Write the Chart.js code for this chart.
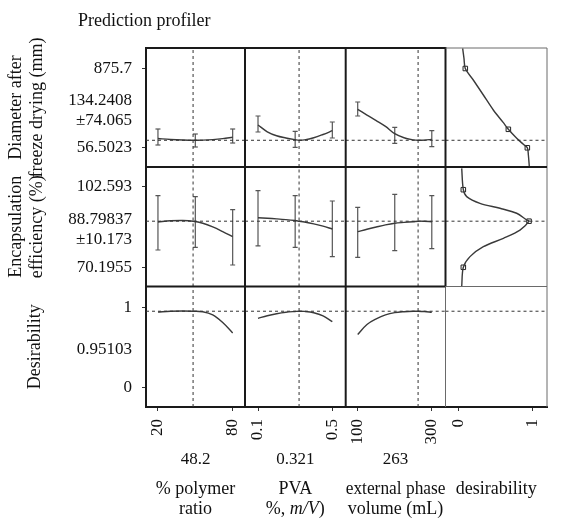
<!DOCTYPE html>
<html>
<head>
<meta charset="utf-8">
<title>Prediction profiler</title>
<script src="https://cdn.jsdelivr.net/npm/chart.js@4.4.1/dist/chart.umd.min.js"></script>
<style>
  html, body { margin: 0; padding: 0; background: #fff; }
</style>
</head>
<body>
<canvas id="profiler" width="571" height="518"></canvas>
<script>
  var chartTitle = 'Prediction profiler'

  // factors = columns
  var factorNames = [['% polymer', 'ratio'], ['PVA', '%, m/V)'], ['external phase', 'volume (mL)'], ['desirability']]
  var italicWord = 'm/V'
  var factorCurrent = [48.2, 0.321, 263]
  var factorCurrentLabels = ['48.2', '0.321', '263']
  var factorTicks = [[20, 80], [0.1, 0.5], [100, 300], [0, 1]]
  var factorTickLabels = [['20', '80'], ['0.1', '0.5'], ['100', '300'], ['0', '1']]
  var factorMin = [10.4, 0.03, 67.6, -0.184]
  var factorMax = [89.9, 0.572, 337, 1.2]

  // responses = rows
  var responseNames = [['Diameter after', 'freeze drying (mm)'], ['Encapsulation', 'efficiency (%)'], ['Desirability']]
  var responseCurrent = [134.2408, 88.79837, 0.95103]
  var responseCurrentLabels = [['134.2408', '±74.065'], ['88.79837', '±10.173'], ['0.95103']]
  var responseTicks = [[56.5023, 875.7], [70.1955, 102.593], [0, 1]]
  var responseTickLabels = [['56.5023', '875.7'], ['70.1955', '102.593'], ['0', '1']]
  var responseMin = [-141.8, 62.45, -0.246]
  var responseMax = [1087.5, 110.66, 1.26]

  // profile traces
  var polymerX = [20, 30, 40, 48.2, 56, 64, 72, 80]
  var pvaX = [0.1, 0.15, 0.2, 0.25, 0.3, 0.321, 0.35, 0.4, 0.45, 0.5]
  var volumeX = [100, 125, 150, 175, 200, 225, 250, 263, 280, 300]

  var diameterByPolymer = [152, 143, 137, 134.24, 136, 141, 151, 166]
  var diameterByPva = [292, 222, 181, 158, 140, 134.24, 138, 160, 194, 233]
  var diameterByVolume = [454, 395, 338, 278, 202, 160, 139, 134.24, 136, 144]

  var efficiencyByPolymer = [88.47, 88.95, 89.08, 88.8, 87.98, 86.5, 84.6, 82.54]
  var efficiencyByPva = [90.2, 90.0, 89.75, 89.45, 89.05, 88.8, 88.45, 87.7, 86.8, 85.65]
  var efficiencyByVolume = [84.56, 85.55, 86.45, 87.3, 87.95, 88.3, 88.6, 88.8, 88.75, 88.6]

  var desirabilityByPolymer = [0.94, 0.951, 0.954, 0.951, 0.945, 0.905, 0.81, 0.68]
  var desirabilityByPva = [0.8625, 0.895, 0.92, 0.938, 0.948, 0.951, 0.949, 0.932, 0.893, 0.82]
  var desirabilityByVolume = [0.66, 0.785, 0.855, 0.905, 0.933, 0.945, 0.951, 0.951, 0.947, 0.9375]

  // confidence bars at the design points
  var polymerBarX = [20, 50, 80]
  var pvaBarX = [0.1, 0.3, 0.5]
  var volumeBarX = [100, 200, 300]
  var diameterLow = [[85.4, 64.8, 106], [220, 61.7, 158], [385, 103, 68]]
  var diameterHigh = [[250.7, 199, 250.7], [385, 227, 323], [529.6, 268, 233]]
  var efficiencyLow = [[77.17, 78.26, 71.12], [78.8, 78.26, 74.47], [74.23, 76.89, 77.7]]
  var efficiencyHigh = [[99.08, 98.68, 93.43], [101.1, 99.08, 96.94], [94.4, 99.65, 99.08]]

  // desirability functions (last column)
  var diameterDesire = [0.05, 0.068, 0.086, 0.195, 0.332, 0.468, 0.605, 0.673, 0.787, 0.877, 0.932, 0.946, 0.959]
  var diameterDesireY = [1084, 981, 875.7, 757, 602, 447, 316, 247.6, 154.6, 92.7, 56.5, -17.9, -139]
  var diameterKnotD = [0.086, 0.673, 0.932]
  var diameterKnotY = [875.7, 247.6, 56.5]
  var efficiencyDesire = [0.037, 0.059, 0.105, 0.286, 0.559, 0.787, 0.923, 0.955, 0.832, 0.605, 0.332, 0.15, 0.059, 0.037]
  var efficiencyDesireY = [110.1, 101.5, 98.7, 96.0, 94.0, 92.0, 89.3, 88.8, 85.2, 81.9, 78.5, 74.5, 70.2, 62.5]
  var efficiencyKnotD = [0.059, 0.955, 0.059]
  var efficiencyKnotY = [101.5, 88.8, 70.2]

  var profileX = [polymerX, pvaX, volumeX]
  var profileY = [
    [diameterByPolymer, diameterByPva, diameterByVolume],
    [efficiencyByPolymer, efficiencyByPva, efficiencyByVolume],
    [desirabilityByPolymer, desirabilityByPva, desirabilityByVolume]
  ]
  var barX = [polymerBarX, pvaBarX, volumeBarX]
  var barLow = [diameterLow, efficiencyLow]
  var barHigh = [diameterHigh, efficiencyHigh]

  var serif = "'Liberation Serif', 'Times New Roman', serif"
  Chart.defaults.font.family = serif
  Chart.defaults.font.size = 17
  Chart.defaults.color = '#111'

  function pts(xs, ys) {
    return xs.map(function (x, i) { return { x: x, y: ys[i] } })
  }

  var datasets = []

  // dashed reference lines
  for (var r = 0; r < 3; r++) {
    for (var c = 0; c < 4; c++) {
      datasets.push({
        data: [{ x: factorMin[c], y: responseCurrent[r] }, { x: factorMax[c], y: responseCurrent[r] }],
        xAxisID: 'x' + c, yAxisID: 'y' + r,
        showLine: true, pointRadius: 0, borderWidth: 1, borderColor: '#333', borderDash: [3, 3]
      })
      if (c < 3) {
        datasets.push({
          data: [{ x: factorCurrent[c], y: responseMin[r] }, { x: factorCurrent[c], y: responseMax[r] }],
          xAxisID: 'x' + c, yAxisID: 'y' + r,
          showLine: true, pointRadius: 0, borderWidth: 1, borderColor: '#333', borderDash: [3, 3]
        })
      }
    }
  }

  // profile curves
  for (var r = 0; r < 3; r++) {
    for (var c = 0; c < 3; c++) {
      datasets.push({
        data: pts(profileX[c], profileY[r][c]),
        xAxisID: 'x' + c, yAxisID: 'y' + r,
        showLine: true, pointRadius: 0, borderWidth: 1.4, borderColor: '#3a3a3a', tension: 0.35
      })
    }
  }

  // error bars, caps come from the 'line' point style
  for (var r = 0; r < 2; r++) {
    for (var c = 0; c < 3; c++) {
      barX[c].forEach(function (bx, i) {
        datasets.push({
          data: [{ x: bx, y: barLow[r][c][i] }, { x: bx, y: barHigh[r][c][i] }],
          xAxisID: 'x' + c, yAxisID: 'y' + r,
          showLine: true, borderWidth: 1.2, borderColor: '#555',
          pointStyle: 'line', pointRadius: 2.5, pointBorderWidth: 1.2, pointBorderColor: '#555'
        })
      })
    }
  }

  // desirability functions
  var desireD = [diameterDesire, efficiencyDesire]
  var desireY = [diameterDesireY, efficiencyDesireY]
  var knotD = [diameterKnotD, efficiencyKnotD]
  var knotY = [diameterKnotY, efficiencyKnotY]
  for (var r = 0; r < 2; r++) {
    datasets.push({
      data: pts(desireD[r], desireY[r]),
      xAxisID: 'x3', yAxisID: 'y' + r,
      showLine: true, pointRadius: 0, borderWidth: 1.4, borderColor: '#3a3a3a', tension: 0.3
    })
    datasets.push({
      data: pts(knotD[r], knotY[r]),
      xAxisID: 'x3', yAxisID: 'y' + r,
      showLine: false, pointStyle: 'rect', pointRadius: 3.2,
      pointBorderWidth: 1, pointBorderColor: '#222', pointBackgroundColor: '#fff'
    })
  }

  var colWeights = [99, 100.7, 99.8, 101.5]
  var rowWeights = [119, 119.5, 120.5]
  var titleFont = { size: 18, lineHeight: 1.15 }

  // a title line holding the italic word is left blank here and written by the labels plugin
  function hasItalic(line) { return line.indexOf(italicWord) >= 0 }

  var scales = {}
  factorNames.forEach(function (name, c) {
    scales['x' + c] = {
      type: 'linear', position: 'bottom', stack: 'cols', stackWeight: colWeights[c], weight: c + 1,
      min: factorMin[c], max: factorMax[c],
      afterBuildTicks: function (s) { s.ticks = factorTicks[c].map(function (v) { return { value: v } }) },
      afterFit: function (s) { s.height = 113; s.paddingLeft = 0; s.paddingRight = 0 },
      ticks: {
        autoSkip: false, minRotation: 90, maxRotation: 90, padding: 8,
        callback: function (v, i) { return factorTickLabels[c][i] }
      },
      grid: { drawOnChartArea: false, drawTicks: true, tickLength: 4, tickColor: '#333' },
      border: { display: true, color: '#1a1a1a', width: 2 },
      title: {
        display: true, color: '#111', font: titleFont,
        text: name.map(function (l) { return hasItalic(l) ? ' ' : l }),
        padding: { top: 0, bottom: name.length > 1 ? 0 : 20.7 }
      }
    }
  })
  responseNames.forEach(function (name, r) {
    scales['y' + r] = {
      type: 'linear', position: 'left', stack: 'rows', stackWeight: rowWeights[r], weight: 3 - r,
      min: responseMin[r], max: responseMax[r],
      afterBuildTicks: function (s) { s.ticks = responseTicks[r].map(function (v) { return { value: v } }) },
      afterFit: function (s) { s.width = 146; s.paddingTop = 0; s.paddingBottom = 0 },
      ticks: {
        autoSkip: false, padding: 10,
        callback: function (v, i) { return responseTickLabels[r][i] }
      },
      grid: { drawOnChartArea: false, drawTicks: true, tickLength: 4, tickColor: '#333' },
      border: { display: true, color: '#1a1a1a', width: 2 },
      title: {
        display: true, text: name, color: '#111', font: titleFont,
        padding: { top: name.length > 1 ? 6 : 24.5, bottom: 0 }
      }
    }
  })

  // panel frame: heavy lines between the profile cells, light ones round the empty corner
  var frames = {
    id: 'frames',
    afterDraw: function (chart) {
      var ctx = chart.ctx, a = chart.chartArea, s = chart.scales
      var heavy = '#1a1a1a', light = '#6a6a6a'
      function seg(x1, y1, x2, y2, w, col) {
        ctx.beginPath()
        ctx.lineWidth = w
        ctx.strokeStyle = col
        ctx.moveTo(x1, y1)
        ctx.lineTo(x2, y2)
        ctx.stroke()
      }
      ctx.save()
      seg(s.x1.left, a.top, s.x1.left, a.bottom, 2, heavy)
      seg(s.x2.left, a.top, s.x2.left, a.bottom, 2, heavy)
      seg(s.x3.left, a.top - 1, s.x3.left, s.y2.top, 2, heavy)
      seg(s.x3.left, s.y2.top, s.x3.left, a.bottom, 1, light)
      seg(a.right, a.top, a.right, a.bottom, 1, light)
      seg(a.left, a.top, s.x3.left, a.top, 2, heavy)
      seg(s.x3.left, a.top, a.right, a.top, 1, light)
      seg(a.left, s.y1.top, a.right, s.y1.top, 2, heavy)
      seg(a.left, s.y2.top, s.x3.left, s.y2.top, 2, heavy)
      seg(s.x3.left, s.y2.top, a.right, s.y2.top, 1, light)
      ctx.restore()
    }
  }

  // title, current values and the italic title line
  var labels = {
    id: 'labels',
    afterDraw: function (chart) {
      var ctx = chart.ctx
      ctx.save()
      ctx.fillStyle = '#111'
      ctx.textBaseline = 'middle'
      ctx.font = '18px ' + serif
      ctx.textAlign = 'left'
      ctx.fillText(chartTitle, 78, 21)
      ctx.font = '17px ' + serif
      ctx.textAlign = 'right'
      responseCurrentLabels.forEach(function (lines, r) {
        var s = chart.scales['y' + r]
        var cy = (s.top + s.bottom) / 2 + 3 - (lines.length - 1) * 10
        lines.forEach(function (t, i) { ctx.fillText(t, s.right - 14, cy + i * 20) })
      })
      ctx.textAlign = 'center'
      factorCurrentLabels.forEach(function (t, c) {
        var s = chart.scales['x' + c]
        ctx.fillText(t, (s.left + s.right) / 2, s.top + 53)
      })

      var lh = 18 * 1.15
      factorNames.forEach(function (name, c) {
        var s = chart.scales['x' + c]
        name.forEach(function (line, i) {
          if (!hasItalic(line)) return
          var k = line.indexOf(italicWord)
          var parts = [[line.slice(0, k), ''], [italicWord, 'italic '], [line.slice(k + italicWord.length), '']]
          var widths = parts.map(function (p) { ctx.font = p[1] + '18px ' + serif; return ctx.measureText(p[0]).width })
          var total = widths.reduce(function (a, b) { return a + b }, 0)
          var x = (s.left + s.right) / 2 - total / 2
          var y = s.bottom - lh / 2 - lh * (name.length - 1 - i)
          ctx.textAlign = 'left'
          parts.forEach(function (p, j) {
            ctx.font = p[1] + '18px ' + serif
            ctx.fillText(p[0], x, y)
            x += widths[j]
          })
        })
      })
      ctx.restore()
    }
  }

  new Chart(document.getElementById('profiler'), {
    type: 'scatter',
    data: { datasets: datasets },
    options: {
      responsive: false,
      devicePixelRatio: 1,
      animation: false,
      events: [],
      layout: { padding: { top: 48, right: 24, left: 0, bottom: -2 } },
      plugins: { legend: { display: false }, tooltip: { enabled: false } },
      scales: scales
    },
    plugins: [frames, labels]
  })
</script>
</body>
</html>
